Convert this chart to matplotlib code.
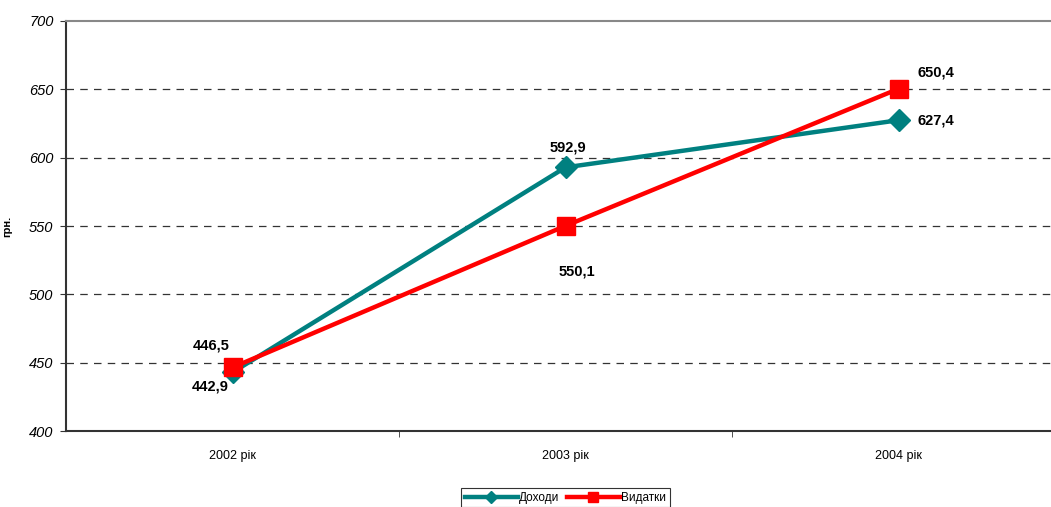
import matplotlib
matplotlib.use("Agg")
import matplotlib.pyplot as plt

plt.rcParams["font.family"] = ["Liberation Sans", "DejaVu Sans"]

years = ["2002 рік", "2003 рік", "2004 рік"]
income = [442.9, 592.9, 627.4]
expenses = [446.5, 550.1, 650.4]
income_labels = ["442,9", "592,9", "627,4"]
expense_labels = ["446,5", "550,1", "650,4"]

teal = "#008080"
red = "#ff0000"

fig = plt.figure(figsize=(10.51, 5.07), dpi=100)
ax = fig.add_axes([66 / 1051, 76 / 507, 999 / 1051, 410 / 507])

x = [0, 1, 2]
ax.plot(x, income, color=teal, lw=3.2, marker="D", ms=11, mec=teal, label="Доходи", zorder=3)
ax.plot(x, expenses, color=red, lw=3.2, marker="s", ms=13, mec=red, label="Видатки", zorder=4)

# value labels
inc_off = [(-16, -10), (2, 14), (27, -0.5)]
exp_off = [(-15, 16), (8, -33), (27, 12)]
for xi, v, t, (dx, dy) in zip(x, income, income_labels, inc_off):
    ax.annotate(t, (xi, v), xytext=(dx, dy), textcoords="offset points",
                ha="center", va="center", fontsize=10.5, fontweight="bold")
for xi, v, t, (dx, dy) in zip(x, expenses, expense_labels, exp_off):
    ax.annotate(t, (xi, v), xytext=(dx, dy), textcoords="offset points",
                ha="center", va="center", fontsize=10.5, fontweight="bold")

ax.set_xlim(-0.5, 2.5)
ax.set_ylim(400, 700)
ax.set_yticks(range(400, 701, 50))
ax.set_yticklabels([str(v) for v in range(400, 701, 50)], fontsize=10.5, style="italic")
ax.set_xticks(x)
ax.set_xticklabels(years, fontsize=9)
ax.set_xticks([0.5, 1.5], minor=True)
ax.tick_params(axis="x", which="major", length=0, pad=14)
ax.tick_params(axis="x", which="minor", length=4, color="#333333")
ax.tick_params(axis="y", length=4, color="#333333", pad=5)

for v in range(450, 651, 50):
    ax.axhline(v, color="#333333", lw=0.9, ls=(0, (6, 5)), zorder=1)

ax.spines["left"].set_color("#333333")
ax.spines["left"].set_linewidth(1.5)
ax.spines["bottom"].set_color("#333333")
ax.spines["bottom"].set_linewidth(1.5)
ax.spines["top"].set_color("#888888")
ax.spines["top"].set_linewidth(1.5)
ax.spines["right"].set_visible(False)

ax.set_ylabel("грн.", fontsize=8, fontweight="bold", labelpad=12)

leg = fig.legend(loc="lower center", bbox_to_anchor=(0.538, -0.012), ncol=2,
                 fontsize=8.5, frameon=True, fancybox=False, edgecolor="black",
                 handlelength=4.5, handletextpad=0.1, columnspacing=0.6,
                 borderpad=0.3, markerscale=0.6)
leg.get_frame().set_linewidth(0.8)

fig.savefig("out.png", dpi=100)
